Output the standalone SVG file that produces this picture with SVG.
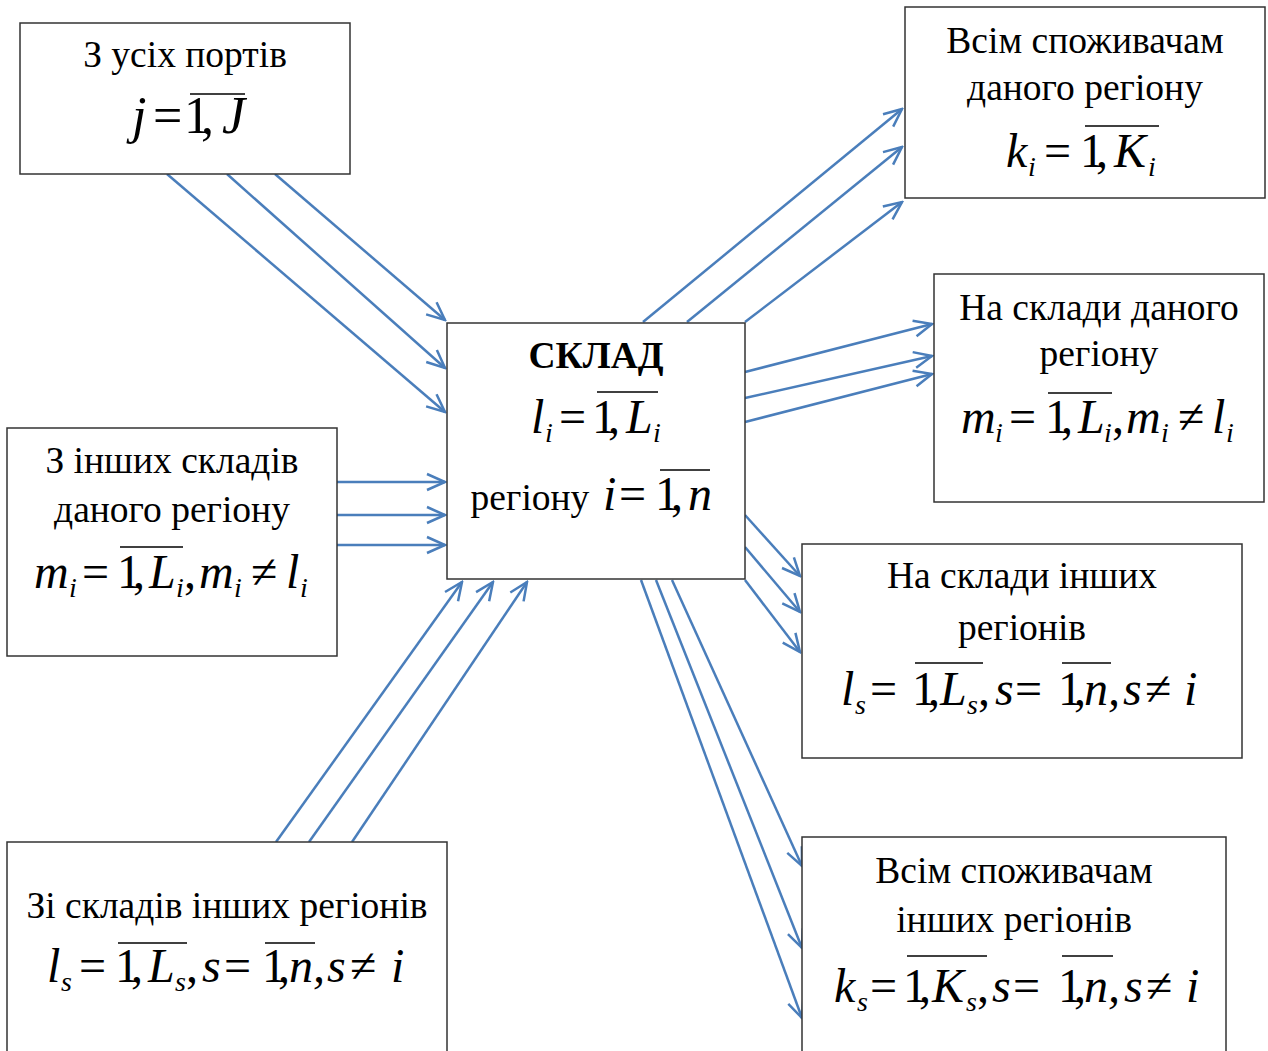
<svg xmlns="http://www.w3.org/2000/svg" width="1268" height="1051" viewBox="0 0 1268 1051">
<defs>
<style>
.box{fill:#fff;stroke:#333;stroke-width:1.5}
.t{font-family:"Liberation Serif","Times New Roman",serif;font-size:37.5px;fill:#000;text-anchor:middle}
.f{font-family:"Liberation Serif","Times New Roman",serif;font-size:48px;fill:#000}
.big{font-size:52px}
.i{font-style:italic}
.s{font-size:28px;font-style:italic}
.k{letter-spacing:-8px}
.ov{stroke:#000;stroke-width:1.6}
.a{stroke:#4a7ebb;stroke-width:2.5;fill:none;marker-end:url(#ah)}
</style>
<marker id="ah" viewBox="-22 -11 24 22" markerWidth="24" markerHeight="22" refX="0" refY="0" orient="auto" markerUnits="userSpaceOnUse">
<path d="M-18,-8 L0,0 L-18,8" fill="none" stroke="#4a7ebb" stroke-width="2.5"/>
</marker>
</defs>
<rect width="1268" height="1051" fill="#fff"/>

<g id="connectors">
<line class="a" x1="167" y1="174" x2="445" y2="412"/>
<line class="a" x1="227" y1="174" x2="445" y2="368"/>
<line class="a" x1="275" y1="174" x2="445" y2="320"/>
<line class="a" x1="337" y1="482" x2="445" y2="482"/>
<line class="a" x1="337" y1="515" x2="445" y2="515"/>
<line class="a" x1="337" y1="545" x2="445" y2="545"/>
<line class="a" x1="276" y1="842" x2="462" y2="582"/>
<line class="a" x1="309" y1="842" x2="493" y2="582"/>
<line class="a" x1="352" y1="842" x2="527" y2="582"/>
<line class="a" x1="643" y1="322" x2="902" y2="109"/>
<line class="a" x1="687" y1="322" x2="902" y2="147"/>
<line class="a" x1="745" y1="322" x2="902" y2="202"/>
<line class="a" x1="745" y1="372" x2="932" y2="324"/>
<line class="a" x1="745" y1="398" x2="932" y2="356"/>
<line class="a" x1="745" y1="422" x2="932" y2="374"/>
<line class="a" x1="745" y1="515" x2="800" y2="576"/>
<line class="a" x1="745" y1="547" x2="800" y2="612"/>
<line class="a" x1="745" y1="580" x2="800" y2="652"/>
<line class="a" x1="672" y1="580" x2="802" y2="866"/>
<line class="a" x1="656" y1="580" x2="802" y2="948"/>
<line class="a" x1="641" y1="580" x2="802" y2="1018"/>
</g>

<g id="ports">
<rect class="box" x="20" y="23" width="330" height="151"/>
<text class="t" x="185" y="67">З усіх портів</text>
<text class="f big"><tspan class="i" x="132" y="133">j</tspan><tspan x="153">=</tspan><tspan x="184" style="letter-spacing:-9px">1,</tspan><tspan class="i" x="222">J</tspan></text>
<line class="ov" x1="190" y1="94" x2="245" y2="94"/>
</g>

<g id="sklad">
<rect class="box" x="447" y="323" width="298" height="256"/>
<text class="t" x="596" y="368" font-weight="bold">СКЛАД</text>
<text class="f"><tspan class="i" x="531" y="433">l</tspan><tspan class="s" x="545" y="442">i</tspan><tspan x="559" y="433">=</tspan><tspan class="k" x="592">1,</tspan><tspan class="i" x="626">L</tspan><tspan class="s" x="653" y="442">i</tspan></text>
<line class="ov" x1="597" y1="392" x2="658" y2="392"/>
<text class="t" x="530" y="510">регіону</text>
<text class="f"><tspan class="i" x="603" y="510">i</tspan><tspan x="619">=</tspan><tspan class="k" x="655">1,</tspan><tspan class="i" x="688">n</tspan></text>
<line class="ov" x1="660" y1="470" x2="710" y2="470"/>
</g>

<g id="consumers-region">
<rect class="box" x="905" y="7" width="360" height="191"/>
<text class="t" x="1085" y="53">Всім споживачам</text>
<text class="t" x="1085" y="100">даного регіону</text>
<text class="f"><tspan class="i" x="1006" y="167">k</tspan><tspan class="s" x="1028" y="176">i</tspan><tspan x="1044" y="167">=</tspan><tspan class="k" x="1080">1,</tspan><tspan class="i" x="1114">K</tspan><tspan class="s" x="1148" y="176">i</tspan></text>
<line class="ov" x1="1085" y1="126" x2="1159" y2="126"/>
</g>

<g id="warehouses-region">
<rect class="box" x="934" y="274" width="330" height="228"/>
<text class="t" x="1099" y="320">На склади даного</text>
<text class="t" x="1099" y="366">регіону</text>
<text class="f"><tspan class="i" x="961" y="433">m</tspan><tspan class="s" x="995" y="442">i</tspan><tspan x="1009" y="433">=</tspan><tspan class="k" x="1045">1,</tspan><tspan class="i" x="1078">L</tspan><tspan class="s" x="1104" y="442">i</tspan><tspan x="1112" y="433">,</tspan><tspan class="i" x="1126">m</tspan><tspan class="s" x="1161" y="442">i</tspan><tspan x="1178" y="433">≠</tspan><tspan class="i" x="1212">l</tspan><tspan class="s" x="1226" y="442">i</tspan></text>
<line class="ov" x1="1048" y1="393" x2="1112" y2="393"/>
</g>

<g id="warehouses-other">
<rect class="box" x="802" y="544" width="440" height="214"/>
<text class="t" x="1022" y="588">На склади інших</text>
<text class="t" x="1022" y="640">регіонів</text>
<text class="f"><tspan class="i" x="841" y="705">l</tspan><tspan class="s" x="855" y="714">s</tspan><tspan x="870" y="705">=</tspan><tspan class="k" x="912">1,</tspan><tspan class="i" x="940">L</tspan><tspan class="s" x="967" y="714">s</tspan><tspan x="978" y="705">,</tspan><tspan class="i" x="995">s</tspan><tspan x="1015">=</tspan><tspan class="k" x="1058">1,</tspan><tspan class="i" x="1084">n,</tspan><tspan class="i" x="1123">s</tspan><tspan x="1145">≠</tspan><tspan class="i" x="1184">i</tspan></text>
<line class="ov" x1="915" y1="663" x2="983" y2="663"/>
<line class="ov" x1="1062" y1="663" x2="1111" y2="663"/>
</g>

<g id="consumers-other">
<rect class="box" x="802" y="837" width="424" height="230"/>
<text class="t" x="1014" y="883">Всім споживачам</text>
<text class="t" x="1014" y="932">інших регіонів</text>
<text class="f"><tspan class="i" x="834" y="1002">k</tspan><tspan class="s" x="857" y="1011">s</tspan><tspan x="870" y="1002">=</tspan><tspan class="k" x="903">1,</tspan><tspan class="i" x="932">K</tspan><tspan class="s" x="966" y="1011">s</tspan><tspan x="977" y="1002">,</tspan><tspan class="i" x="992">s</tspan><tspan x="1013">=</tspan><tspan class="k" x="1058">1,</tspan><tspan class="i" x="1084">n,</tspan><tspan class="i" x="1124">s</tspan><tspan x="1146">≠</tspan><tspan class="i" x="1186">i</tspan></text>
<line class="ov" x1="907" y1="956" x2="987" y2="956"/>
<line class="ov" x1="1062" y1="956" x2="1113" y2="956"/>
</g>

<g id="other-warehouses-region">
<rect class="box" x="7" y="428" width="330" height="228"/>
<text class="t" x="172" y="473">З інших складів</text>
<text class="t" x="172" y="522">даного регіону</text>
<text class="f"><tspan class="i" x="34" y="588">m</tspan><tspan class="s" x="69" y="597">i</tspan><tspan x="82" y="588">=</tspan><tspan class="k" x="117">1,</tspan><tspan class="i" x="149">L</tspan><tspan class="s" x="176" y="597">i</tspan><tspan x="184" y="588">,</tspan><tspan class="i" x="199">m</tspan><tspan class="s" x="234" y="597">i</tspan><tspan x="251" y="588">≠</tspan><tspan class="i" x="286">l</tspan><tspan class="s" x="300" y="597">i</tspan></text>
<line class="ov" x1="120" y1="547" x2="183" y2="547"/>
</g>

<g id="other-regions">
<rect class="box" x="7" y="842" width="440" height="230"/>
<text class="t" x="227" y="918">Зі складів інших регіонів</text>
<text class="f"><tspan class="i" x="47" y="982">l</tspan><tspan class="s" x="61" y="991">s</tspan><tspan x="79" y="982">=</tspan><tspan class="k" x="115">1,</tspan><tspan class="i" x="148">L</tspan><tspan class="s" x="175" y="991">s</tspan><tspan x="186" y="982">,</tspan><tspan class="i" x="202">s</tspan><tspan x="224">=</tspan><tspan class="k" x="262">1,</tspan><tspan class="i" x="289">n,</tspan><tspan class="i" x="327">s</tspan><tspan x="350">≠</tspan><tspan class="i" x="391">i</tspan></text>
<line class="ov" x1="118" y1="943" x2="187" y2="943"/>
<line class="ov" x1="265" y1="943" x2="315" y2="943"/>
</g>
</svg>
